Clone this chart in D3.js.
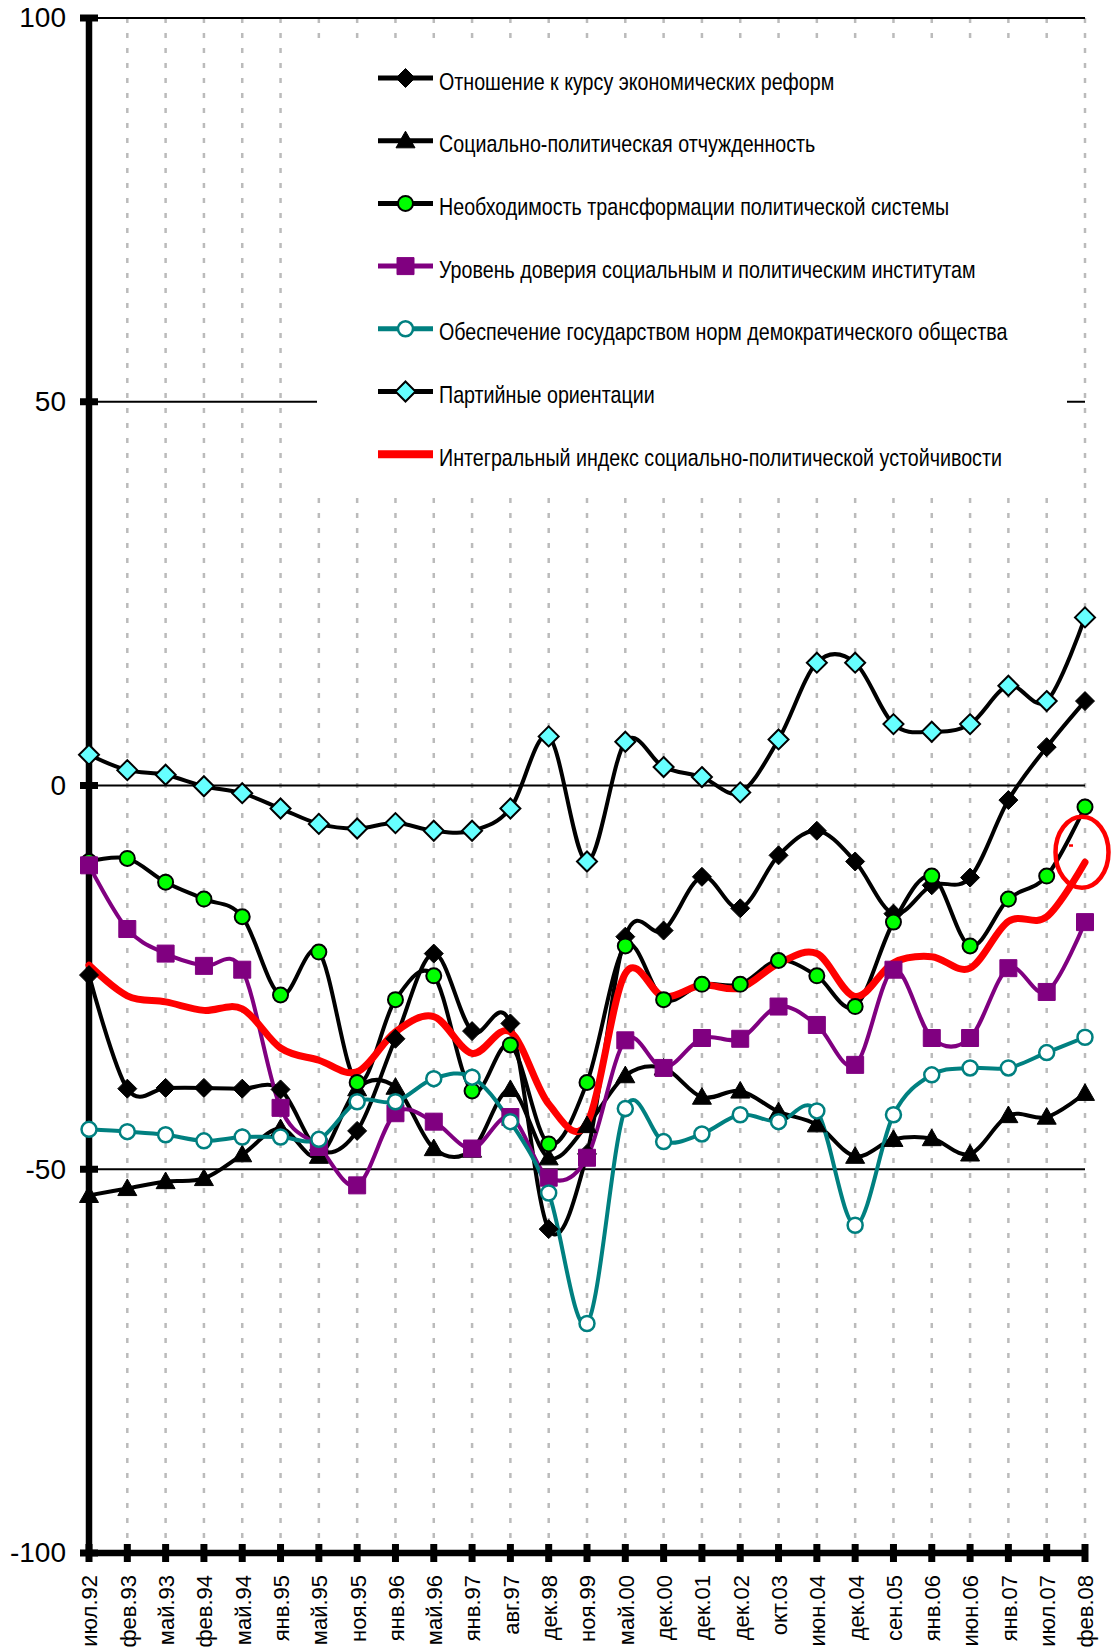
<!DOCTYPE html>
<html lang="ru">

<head>
    <meta charset="UTF-8">
    <title>Индекс социально-политической устойчивости</title>
    <script src="https://cdn.jsdelivr.net/npm/d3@7/dist/d3.min.js"></script>
    <style>
        html,
        body {
            margin: 0;
            padding: 0;
            background: #fff;
        }

        #chart {
            width: 1118px;
            height: 1648px;
            overflow: hidden;
        }

        text {
            font-family: "Liberation Sans", Arial, sans-serif;
            fill: #000;
        }

        .legend text {
            /* узкий шрифт не установлен, сжимаем обычный */
            font-family: "Liberation Sans Narrow", "Arial Narrow", "Liberation Sans", sans-serif;
            font-size: 24px;
        }

        .vgrid {
            stroke: #bbbbbb;
            stroke-width: 2.5px;
            stroke-dasharray: 5, 10;
        }

        .hgrid {
            stroke: #000;
            stroke-width: 2px;
        }

        .serie {
            fill: none;
            stroke-linejoin: round;
            stroke-linecap: round;
        }
    </style>
</head>

<body>
    <div id="chart"></div>
</body>

<script>
    // категории (даты опросов)
    const categories = ["июл.92", "фев.93", "май.93", "фев.94", "май.94", "янв.95", "май.95", "ноя.95", "янв.96",
        "май.96", "янв.97", "авг.97", "дек.98", "ноя.99", "май.00", "дек.00", "дек.01", "дек.02", "окт.03",
        "июн.04", "дек.04", "сен.05", "янв.06", "июн.06", "янв.07", "июл.07", "фев.08"];

    const seriesNames = [
        "Отношение к курсу экономических реформ",
        "Социально-политическая отчужденность",
        "Необходимость трансформации политической системы",
        "Уровень доверия социальным и политическим институтам",
        "Обеспечение государством норм демократического общества",
        "Партийные ориентации",
        "Интегральный индекс социально-политической устойчивости"
    ];

    const reforms = [-24.7, -39.5, -39.4, -39.4, -39.5, -39.6, -47.5, -45.0, -33.0, -21.9, -32.0, -31.0, -57.8,
        -48.0, -19.7, -18.9, -11.9, -16.0, -9.1, -5.9, -9.9, -16.7, -13.0, -12.0, -1.9, 5.0, 11.0];

    const alienation = [-53.4, -52.5, -51.6, -51.2, -48.1, -44.7, -48.3, -39.5, -39.3, -47.3, -47.5, -39.6, -48.5,
        -44.3, -37.8, -36.8, -40.6, -39.8, -42.5, -44.2, -48.3, -46.1, -46.0, -48.0, -43.0, -43.2, -40.1];

    const transformation = [-9.9, -9.5, -12.6, -14.8, -17.1, -27.3, -21.7, -38.7, -27.9, -24.8, -39.8, -33.8, -46.7,
        -38.7, -20.9, -27.9, -25.9, -25.9, -22.8, -24.8, -28.8, -17.8, -11.8, -20.9, -14.8, -11.8, -2.8];

    const trust = [-10.4, -18.7, -21.9, -23.5, -24.0, -42.0, -47.1, -52.1, -42.7, -43.8, -47.3, -43.2, -51.1,
        -48.5, -33.2, -36.8, -32.9, -33.0, -28.8, -31.2, -36.4, -24.0, -32.9, -32.9, -23.8, -26.9, -17.8];

    const democracy = [-44.8, -45.1, -45.5, -46.3, -45.8, -45.8, -46.1, -41.2, -41.2, -38.2, -38.0, -43.8, -53.1,
        -70.1, -42.1, -46.4, -45.4, -42.9, -43.8, -42.4, -57.3, -42.9, -37.7, -36.8, -36.8, -34.8, -32.8];

    const parties = [4.0, 2.0, 1.4, -0.1, -1.0, -3.0, -5.0, -5.6, -4.9, -5.9, -5.9, -3.0, 6.4,
        -9.9, 5.7, 2.4, 1.1, -0.9, 6.0, 16.0, 16.0, 8.0, 7.0, 8.0, 13.0, 11.0, 21.9];

    const integral = [-23.4, -27.4, -28.2, -29.3, -29.1, -34.2, -35.8, -37.3, -32.1, -30.1, -34.9, -32.1, -41.5,
        -44.0, -24.5, -27.5, -26.0, -26.4, -23.2, -21.9, -27.5, -23.1, -22.3, -23.8, -17.7, -17.1, -10.0];

    const yTicks = [100, 50, 0, -50, -100];
    const hLines = [100, 50, 0, -50];

    // пометка (красный овал) у последней точки
    const note = { cat: "фев.08", value: -8.7 };

    let draw = () => {
        let svg = d3.select("#chart").append("svg")
            .attr("class", "chart")
            .attr("width", 1118)
            .attr("height", 1648);

        let padding = { top: 18, left: 89, bottom: 95, right: 33 };
        let width = +svg.attr("width") - padding.left - padding.right;
        let height = +svg.attr("height") - padding.top - padding.bottom;

        let focus = svg.append("g")
            .attr("transform", "translate(" + padding.left + "," + padding.top + ")");

        let x = d3.scalePoint().domain(categories).range([0, width]);
        let y = d3.scaleLinear().domain([-100, 100]).range([height, 0]);

        // вертикальная сетка пунктиром
        focus.selectAll(".vgrid")
            .data(categories.slice(1))
            .enter().append("line")
            .attr("class", "vgrid")
            .attr("x1", d => x(d)).attr("x2", d => x(d))
            .attr("y1", y(100)).attr("y2", y(-100));

        // горизонтальные линии
        focus.selectAll(".hgrid")
            .data(hLines)
            .enter().append("line")
            .attr("class", "hgrid")
            .attr("x1", 0).attr("x2", width)
            .attr("y1", d => y(d)).attr("y2", d => y(d));

        // подложка легенды
        let legendBox = { x: 228, y: 29, w: 750, h: 445 };
        focus.append("rect")
            .attr("x", legendBox.x).attr("y", legendBox.y)
            .attr("width", legendBox.w).attr("height", legendBox.h)
            .attr("fill", "#fff");

        /* y axis */
        let yAxis = d3.axisLeft(y).tickValues(yTicks).tickSize(0).tickPadding(23)
            .tickFormat(d => String(d));
        let gy = focus.append("g").attr("class", "yaxis").call(yAxis);
        gy.select(".domain").remove();
        gy.selectAll("text").style("font-size", "28px");

        /* x axis */
        let xAxis = d3.axisBottom(x).tickSize(0);
        let gx = focus.append("g").attr("class", "xaxis")
            .attr("transform", "translate(0," + height + ")")
            .call(xAxis);
        gx.select(".domain").remove();
        gx.selectAll("text")
            .style("font-size", "22px")
            .attr("transform", "rotate(-90)")
            .attr("text-anchor", "end")
            .attr("x", -22)
            .attr("y", 0)
            .attr("dy", "0.36em");

        // толстые оси
        focus.append("line")
            .attr("x1", 0).attr("x2", 0)
            .attr("y1", y(100) - 3).attr("y2", y(-100) + 3)
            .attr("stroke", "#000").attr("stroke-width", 6.5);
        focus.append("line")
            .attr("x1", -3).attr("x2", width + 3)
            .attr("y1", y(-100)).attr("y2", y(-100))
            .attr("stroke", "#000").attr("stroke-width", 6.5);

        focus.selectAll(".ytick")
            .data(yTicks)
            .enter().append("line")
            .attr("x1", -9).attr("x2", 9)
            .attr("y1", d => y(d)).attr("y2", d => y(d))
            .attr("stroke", "#000").attr("stroke-width", 7);

        focus.selectAll(".xtick")
            .data(categories)
            .enter().append("line")
            .attr("x1", d => x(d)).attr("x2", d => x(d))
            .attr("y1", height - 9).attr("y2", height + 9)
            .attr("stroke", "#000").attr("stroke-width", 7);

        //////////////////////*серии*//////////////////////
        let series = [
            { name: seriesNames[0], values: reforms, stroke: "#000", sw: 4, marker: "diamond", size: 9.5, fill: "#000", mstroke: "#000", msw: 1 },
            { name: seriesNames[1], values: alienation, stroke: "#000", sw: 4, marker: "triangle", size: 9.5, fill: "#000", mstroke: "#000", msw: 1 },
            { name: seriesNames[2], values: transformation, stroke: "#000", sw: 4, marker: "circle", size: 7.5, fill: "#00ff00", mstroke: "#000", msw: 2 },
            { name: seriesNames[3], values: trust, stroke: "#800080", sw: 4, marker: "square", size: 8.5, fill: "#800080", mstroke: "#800080", msw: 1 },
            { name: seriesNames[4], values: democracy, stroke: "#008080", sw: 4, marker: "circle", size: 7.5, fill: "#fff", mstroke: "#008080", msw: 2.5 },
            { name: seriesNames[5], values: parties, stroke: "#000", sw: 4, marker: "diamond", size: 10, fill: "#66ffff", mstroke: "#000", msw: 2 },
            { name: seriesNames[6], values: integral, stroke: "#ff0000", sw: 7, marker: null }
        ];

        let markerPath = (type, s) => {
            let p = d3.path();
            if (type === "diamond") {
                p.moveTo(0, -s); p.lineTo(s, 0); p.lineTo(0, s); p.lineTo(-s, 0); p.closePath();
            } else if (type === "triangle") {
                p.moveTo(0, -s); p.lineTo(s, s * 0.75); p.lineTo(-s, s * 0.75); p.closePath();
            } else if (type === "square") {
                p.rect(-s, -s, 2 * s, 2 * s);
            } else if (type === "circle") {
                p.arc(0, 0, s, 0, 2 * Math.PI);
            }
            return p.toString();
        };

        let line = d3.line().curve(d3.curveCardinal.tension(0))
            .x((d, i) => x(categories[i]))
            .y(d => y(d));

        // сначала все линии
        focus.selectAll(".serie")
            .data(series)
            .enter().append("path")
            .attr("class", "serie")
            .attr("d", d => line(d.values))
            .attr("stroke", d => d.stroke)
            .attr("stroke-width", d => d.sw);

        // потом маркеры
        series.filter(s => s.marker).forEach(s => {
            focus.append("g").selectAll("path")
                .data(s.values)
                .enter().append("path")
                .attr("transform", (d, i) => "translate(" + x(categories[i]) + "," + y(d) + ")")
                .attr("d", markerPath(s.marker, s.size))
                .attr("fill", s.fill)
                .attr("stroke", s.mstroke)
                .attr("stroke-width", s.msw);
        });

        // красный овал-пометка
        focus.append("ellipse")
            .attr("cx", x(note.cat) - 3)
            .attr("cy", y(note.value))
            .attr("rx", 26.5).attr("ry", 35.5)
            .attr("fill", "none")
            .attr("stroke", "#ff0000")
            .attr("stroke-width", 4.5);
        focus.append("rect")
            .attr("x", x(note.cat) - 16).attr("y", y(note.value) - 8)
            .attr("width", 4).attr("height", 2.5)
            .attr("fill", "#ff0000");

        //////////////////////*легенда*//////////////////////
        let squeeze = 0.82;
        let legend = focus.append("g").attr("class", "legend")
            .attr("transform", "translate(289,60)");
        let item = legend.selectAll(".item")
            .data(series)
            .enter().append("g")
            .attr("transform", (d, i) => "translate(0," + (i * 62.7) + ")");
        item.append("line")
            .attr("x1", 0).attr("x2", 55)
            .attr("y1", 0).attr("y2", 0)
            .attr("stroke", d => d.stroke)
            .attr("stroke-width", d => d.marker ? 5 : 8);
        item.filter(d => d.marker).append("path")
            .attr("transform", "translate(27.5,0)")
            .attr("d", d => markerPath(d.marker, d.size))
            .attr("fill", d => d.fill)
            .attr("stroke", d => d.mstroke)
            .attr("stroke-width", d => d.msw);
        item.append("text")
            .attr("transform", "translate(61,3) scale(" + squeeze + ",1)")
            .attr("x", 0)
            .attr("y", 0)
            .attr("dy", "0.36em")
            .text(d => d.name);
    }

    draw();
</script>

</html>
